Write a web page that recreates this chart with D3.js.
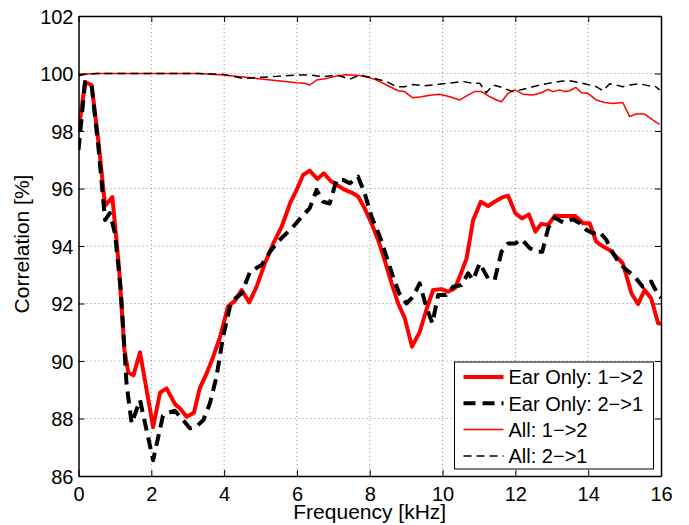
<!DOCTYPE html>
<html>
<head>
<meta charset="utf-8">
<script src="https://cdn.jsdelivr.net/npm/d3@7"></script>
<style>
  html, body { margin: 0; padding: 0; background: #fff; }
  svg text { font-family: "Liberation Sans", Arial, Helvetica, sans-serif; fill: #000; }
</style>
</head>
<body>
<div id="chart"></div>
<script>
(function(){
  "use strict";

  // --- data: [frequency kHz, correlation %] ---
  const earOnly12 = [
    [0,97.97],[0.18,99.7],[0.36,99.6],[0.55,97.6],[0.73,95.4],[0.93,95.7],[1.11,93.3],[1.26,90.4],
    [1.37,89.6],[1.51,89.5],[1.69,90.3],[1.87,89.0],[2.05,87.7],[2.24,88.9],[2.42,89.05],[2.65,88.5],
    [2.79,88.35],[2.97,88.06],[3.17,88.2],[3.33,89.05],[3.52,89.57],[3.7,90.15],[3.88,90.8],[4.11,91.9],
    [4.3,92.1],[4.48,92.47],[4.69,92.04],[4.89,92.58],[5.12,93.4],[5.35,94.09],[5.58,94.67],[5.81,95.48],
    [5.99,95.95],[6.17,96.47],[6.35,96.62],[6.56,96.33],[6.74,96.53],[6.92,96.27],[7.1,96.12],[7.32,95.95],
    [7.5,95.86],[7.68,95.72],[7.86,95.31],[8.05,94.79],[8.23,94.21],[8.41,93.51],[8.6,92.7],[8.78,92.0],
    [8.96,91.5],[9.16,90.5],[9.37,91.0],[9.56,91.8],[9.74,92.47],[9.97,92.5],[10.15,92.41],[10.34,92.53],
    [10.47,92.93],[10.66,93.57],[10.84,94.9],[11.05,95.54],[11.25,95.39],[11.43,95.54],[11.62,95.68],
    [11.8,95.75],[12.0,95.14],[12.18,94.96],[12.37,95.1],[12.55,94.5],[12.71,94.77],[12.9,94.73],
    [13.08,95.05],[13.31,95.04],[13.65,95.04],[13.86,94.79],[14.04,94.79],[14.22,94.15],[14.41,93.98],
    [14.59,93.86],[14.77,93.63],[14.95,93.4],[15.19,92.35],[15.37,91.98],[15.55,92.47],[15.73,92.18],
    [15.92,91.31],[16,91.3]
  ];

  const earOnly21 = [
    [0,97.34],[0.18,99.7],[0.36,99.6],[0.55,97.4],[0.73,94.9],[0.86,95.14],[1.0,94.45],[1.16,92.5],
    [1.32,89.2],[1.46,87.83],[1.69,88.64],[2.05,86.55],[2.32,88.1],[2.42,88.18],[2.65,88.27],[2.83,88.01],
    [3.06,87.66],[3.24,87.72],[3.43,87.95],[3.61,88.53],[3.79,89.45],[3.97,90.84],[4.16,91.89],[4.31,92.18],
    [4.48,92.35],[4.71,93.1],[5.03,93.34],[5.26,93.8],[5.48,94.15],[5.71,94.44],[5.94,94.73],[6.13,95.02],
    [6.35,95.31],[6.54,95.95],[6.72,95.54],[6.9,95.48],[7.09,96.3],[7.27,96.3],[7.45,96.18],[7.68,96.41],
    [7.86,95.83],[8.05,95.02],[8.28,94.32],[8.46,93.63],[8.64,92.93],[8.81,92.35],[9.01,92.0],[9.19,92.24],
    [9.37,92.7],[9.55,91.9],[9.72,91.31],[9.88,92.3],[10.1,92.3],[10.29,92.58],[10.52,92.64],[10.7,93.05],
    [10.84,92.82],[11.02,93.4],[11.25,92.87],[11.43,92.82],[11.62,93.8],[11.8,94.09],[12.0,94.09],
    [12.17,94.23],[12.4,93.92],[12.58,93.8],[12.74,93.8],[12.9,94.62],[13.08,94.99],[13.31,94.82],
    [13.58,94.93],[13.77,94.79],[13.95,94.56],[14.13,94.44],[14.31,94.5],[14.5,94.21],[14.68,93.75],
    [14.86,93.4],[15.05,93.17],[15.28,92.93],[15.5,92.58],[15.73,92.76],[15.92,92.3],[16,92.2]
  ];

  const all12 = [
    [0,99.91],[0.18,99.98],[0.5,100],[3.3,100],[3.97,99.95],[4.89,99.83],[5.99,99.68],[6.22,99.66],
    [6.35,99.6],[6.54,99.77],[6.81,99.83],[7.09,99.91],[7.36,99.96],[7.73,99.93],[8.0,99.85],[8.19,99.77],
    [8.46,99.6],[8.78,99.4],[8.96,99.37],[9.17,99.16],[9.42,99.19],[9.65,99.24],[9.92,99.28],[10.2,99.19],
    [10.47,99.08],[10.7,99.25],[10.88,99.37],[11.07,99.37],[11.3,99.19],[11.48,99.08],[11.62,99.02],
    [11.8,99.31],[11.98,99.43],[12.21,99.28],[12.48,99.25],[12.71,99.33],[12.9,99.45],[13.03,99.37],
    [13.22,99.43],[13.35,99.37],[13.49,99.4],[13.66,99.52],[13.81,99.33],[13.99,99.31],[14.22,99.08],
    [14.45,98.99],[14.68,98.96],[14.95,98.99],[15.14,98.5],[15.32,98.59],[15.55,98.59],[15.78,98.38],
    [15.96,98.23]
  ];

  const all21 = [
    [0,99.95],[0.5,100],[3.3,100],[3.97,99.97],[4.52,99.83],[5.44,99.9],[5.99,99.95],[6.35,99.95],
    [6.72,99.89],[7.09,99.95],[7.45,99.8],[7.73,99.95],[8.0,99.87],[8.46,99.72],[8.73,99.54],[8.96,99.54],
    [9.19,99.62],[9.47,99.57],[9.74,99.6],[10.01,99.64],[10.29,99.68],[10.56,99.72],[10.84,99.66],
    [11.02,99.66],[11.2,99.33],[11.39,99.6],[11.57,99.54],[11.75,99.45],[11.94,99.37],[12.21,99.45],
    [12.48,99.54],[12.76,99.62],[13.03,99.69],[13.26,99.73],[13.49,99.75],[13.77,99.68],[14.04,99.6],
    [14.22,99.54],[14.41,99.4],[14.59,99.64],[14.77,99.6],[14.95,99.54],[15.14,99.6],[15.41,99.64],
    [15.68,99.57],[15.86,99.54],[15.96,99.43]
  ];

  const xTicks = [0, 2, 4, 6, 8, 10, 12, 14, 16];
  const yTicks = [86, 88, 90, 92, 94, 96, 98, 100, 102];
  const seriesNames = ["Ear Only: 1\u2212>2", "Ear Only: 2\u2212>1", "All: 1\u2212>2", "All: 2\u2212>1"];

  // styles per series (same order as names)
  const styles = [
    { color: "#ff0000", width: 4,   dash: null },
    { color: "#000000", width: 4,   dash: "12,7" },
    { color: "#ff0000", width: 1.5, dash: null },
    { color: "#000000", width: 1.5, dash: "8,5" }
  ];
  const seriesData = [earOnly12, earOnly21, all12, all21];

  // --- layout ---
  const W = 689, H = 525;
  const left = 78.5, top = 16, plotW = 582.5, plotH = 460;

  const svg = d3.select("#chart").append("svg")
      .attr("width", W).attr("height", H);

  const x = d3.scaleLinear().domain([0, 16]).range([0, plotW]);
  const y = d3.scaleLinear().domain([86, 102]).range([plotH, 0]);

  const g = svg.append("g").attr("transform", `translate(${left},${top})`);

  // dotted grid
  g.append("g").selectAll("line.gx")
    .data(xTicks.slice(1, -1)).enter().append("line")
      .attr("x1", d => x(d)).attr("x2", d => x(d))
      .attr("y1", 0).attr("y2", plotH)
      .attr("stroke", "#777").attr("stroke-width", 0.8).attr("stroke-dasharray", "1,3");
  g.append("g").selectAll("line.gy")
    .data(yTicks.slice(1, -1)).enter().append("line")
      .attr("x1", 0).attr("x2", plotW)
      .attr("y1", d => y(d)).attr("y2", d => y(d))
      .attr("stroke", "#777").attr("stroke-width", 0.8).attr("stroke-dasharray", "1,3");

  // curves
  const line = d3.line().x(d => x(d[0])).y(d => y(d[1]));
  svg.append("defs").append("clipPath").attr("id", "clip")
    .append("rect").attr("width", plotW).attr("height", plotH);

  seriesData.forEach((data, i) => {
    g.append("path")
      .datum(data)
      .attr("clip-path", "url(#clip)")
      .attr("d", line)
      .attr("fill", "none")
      .attr("stroke", styles[i].color)
      .attr("stroke-width", styles[i].width)
      .attr("stroke-linejoin", "round")
      .attr("stroke-dasharray", styles[i].dash);
  });

  // axes, MATLAB style ticks pointing inwards on all four sides
  const tickLen = 6;
  const axB = g.append("g").attr("transform", `translate(0,${plotH})`)
    .call(d3.axisBottom(x).tickValues(xTicks).tickSizeInner(-tickLen).tickSizeOuter(0));
  const axT = g.append("g")
    .call(d3.axisTop(x).tickValues(xTicks).tickSizeInner(-tickLen).tickSizeOuter(0).tickFormat(""));
  const axL = g.append("g")
    .call(d3.axisLeft(y).tickValues(yTicks).tickSizeInner(-tickLen).tickSizeOuter(0));
  const axR = g.append("g").attr("transform", `translate(${plotW},0)`)
    .call(d3.axisRight(y).tickValues(yTicks).tickSizeInner(-tickLen).tickSizeOuter(0).tickFormat(""));

  [axB, axT, axL, axR].forEach(a => {
    a.select(".domain").attr("stroke", "#000").attr("stroke-width", 1.5);
    a.selectAll(".tick line").attr("stroke", "#000").attr("stroke-width", 1);
    a.selectAll("text").attr("font-size", 20)
      .attr("font-family", "'Liberation Sans', Arial, Helvetica, sans-serif");
  });
  // bottom labels: baseline just above the axis title, like the original
  axB.selectAll("text").attr("y", 24.5).attr("dy", null);
  axL.selectAll("text").attr("x", -5).attr("dy", "0.36em");

  // axis labels
  svg.append("text")
    .attr("x", left + plotW / 2).attr("y", 519)
    .attr("text-anchor", "middle").attr("font-size", 21)
    .text("Frequency [kHz]");
  svg.append("text")
    .attr("transform", "translate(29,244) rotate(-90)")
    .attr("text-anchor", "middle").attr("font-size", 21)
    .text("Correlation [%]");

  // legend
  const lg = svg.append("g").attr("transform", "translate(454.5,362)");
  lg.append("rect").attr("width", 199).attr("height", 107)
    .attr("fill", "#fff").attr("stroke", "#000").attr("stroke-width", 1);
  seriesNames.forEach((name, i) => {
    const ry = 15 + i * 26.3;
    lg.append("line")
      .attr("x1", 9).attr("x2", 49).attr("y1", ry).attr("y2", ry)
      .attr("stroke", styles[i].color).attr("stroke-width", styles[i].width)
      .attr("stroke-dasharray", styles[i].dash);
    lg.append("text")
      .attr("x", 54).attr("y", ry).attr("dy", "0.36em")
      .attr("font-size", 20)
      .text(name);
  });
})();
</script>
</body>
</html>
